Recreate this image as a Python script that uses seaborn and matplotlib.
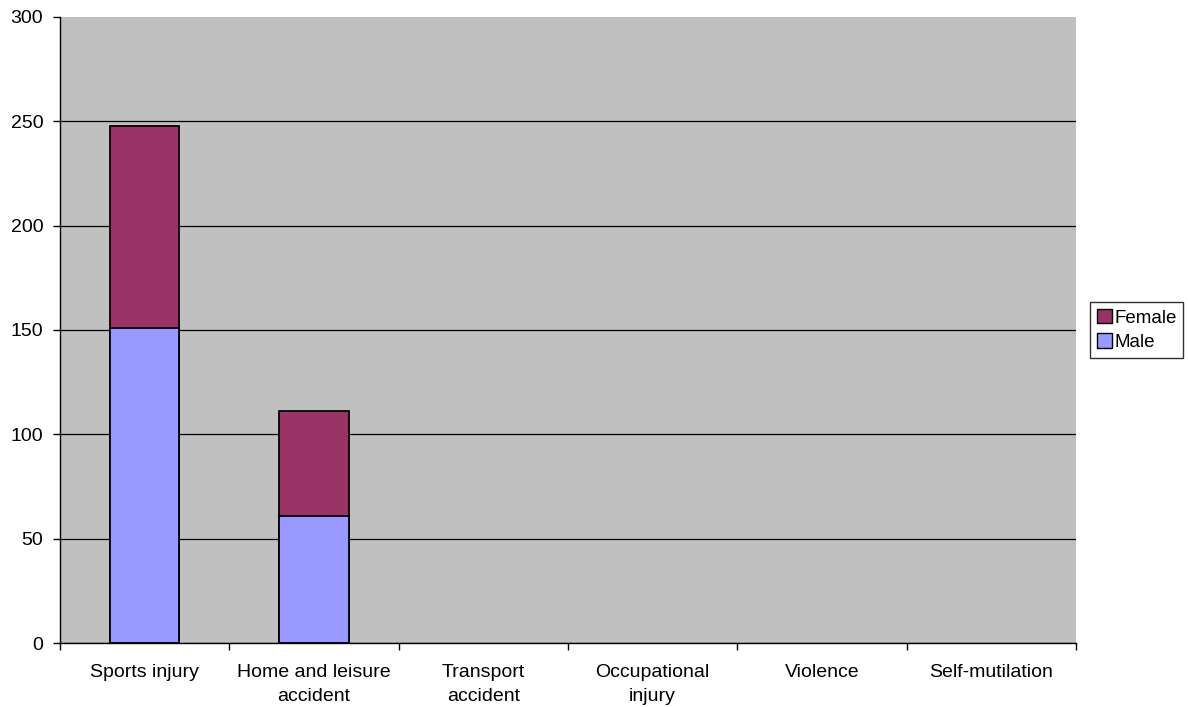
import pandas as pd
import matplotlib
matplotlib.use("Agg")
import matplotlib.pyplot as plt
import seaborn as sns
from matplotlib.patches import Patch

categories = ["Sports injury", "Home and leisure\naccident", "Transport\naccident",
              "Occupational\ninjury", "Violence", "Self-mutilation"]
male = [151, 61, 0, 0, 0, 0]
female = [97, 50, 0, 0, 0, 0]

df = pd.DataFrame({"Category": categories, "Male": male, "Female": female})
df["Total"] = df["Male"] + df["Female"]

sns.set_style("white")
plt.rcParams["font.family"] = ["Liberation Sans", "DejaVu Sans"]
plt.rcParams["text.color"] = "black"
plt.rcParams["xtick.color"] = "black"
plt.rcParams["ytick.color"] = "black"

fig = plt.figure(figsize=(11.88, 7.07), dpi=100)
ax = fig.add_axes([60/1188, 64/707, 1016/1188, 626/707])
ax.set_facecolor("#C0C0C0")

# stacked: totals (female colour) behind, male in front
sns.barplot(data=df, x="Category", y="Total", color="#993366", width=0.41,
            edgecolor="black", linewidth=1.3, saturation=1, ax=ax)
sns.barplot(data=df, x="Category", y="Male", color="#9999FF", width=0.41,
            edgecolor="black", linewidth=1.3, saturation=1, ax=ax)
for p in ax.patches:
    if p.get_height() == 0:
        p.set_visible(False)

ax.set_ylim(0, 300)
ax.set_xlim(-0.5, 5.5)
ax.set_yticks(range(0, 301, 50))
ax.yaxis.grid(True, color="black", linewidth=0.9)
ax.get_ygridlines()[-1].set_visible(False)
ax.set_axisbelow(True)
ax.set_xlabel("")
ax.set_ylabel("")

ax.set_xticks([i + 0.5 for i in range(-1, 6)], minor=True)
ax.set_xticks(range(6))
ax.set_xticklabels(categories, fontsize=14, ha="center", color="black", linespacing=1.55)
ax.tick_params(axis="x", which="major", bottom=False, length=0, pad=15)
ax.tick_params(axis="x", which="minor", bottom=True, length=5, width=1, color="black", direction="out")
ax.tick_params(axis="y", left=True, length=5, width=1, color="black", direction="out",
               labelsize=14, labelcolor="black", pad=7)

for s in ["top", "right"]:
    ax.spines[s].set_visible(False)
for s in ["left", "bottom"]:
    ax.spines[s].set_color("black")
    ax.spines[s].set_linewidth(1)

handles = [Patch(facecolor="#993366", edgecolor="black", label="Female"),
           Patch(facecolor="#9999FF", edgecolor="black", label="Male")]
leg = fig.legend(handles=handles, loc="center left", bbox_to_anchor=(1090/1188, 1 - 330/707),
                 frameon=True, fancybox=False, fontsize=13.5, handlelength=0.8, handleheight=0.8,
                 handletextpad=0.15, borderpad=0.35, labelspacing=0.35, borderaxespad=0)
leg.get_frame().set_edgecolor("black")
leg.get_frame().set_linewidth(1)

fig.savefig("out.png", dpi=100, facecolor="white")
